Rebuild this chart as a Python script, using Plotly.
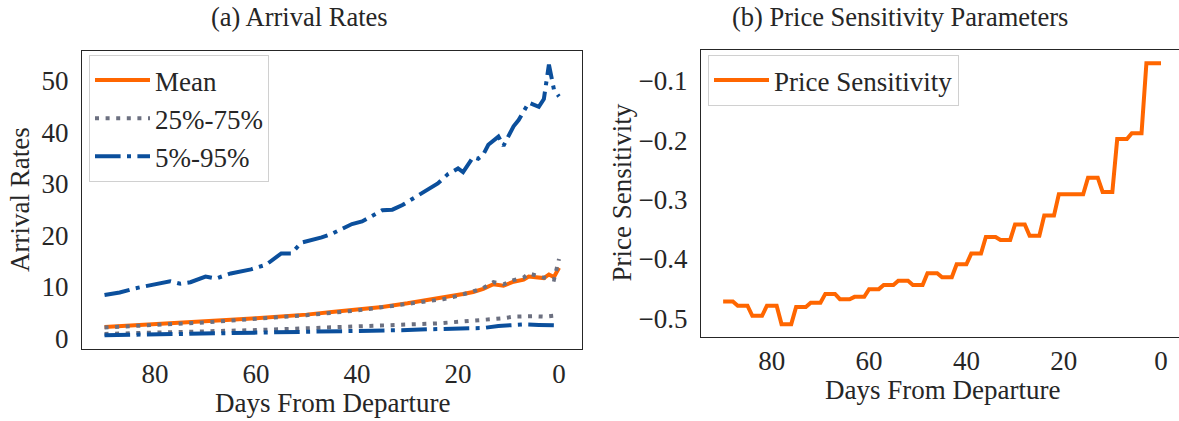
import plotly.graph_objects as go

# ---------------- data: (a) arrival rates ----------------
mean_days = [90, 85, 80, 75, 70, 65, 60, 55, 50, 45, 40, 35, 30, 27, 24, 21, 19, 17, 15, 13, 11, 9, 7, 6, 4, 3, 2, 1, 0]
mean_vals = [2.2, 2.45, 2.7, 2.95, 3.2, 3.6, 3.9, 4.2, 4.6, 5.1, 5.6, 6.1, 6.8, 7.25, 7.7, 8.3, 8.6, 9.0, 9.6, 10.5, 10.2, 11.0, 11.4, 12.0, 11.8, 11.7, 12.4, 11.9, 13.7]

p75_days = [90, 80, 70, 60, 50, 40, 30, 25, 23, 21, 19, 17, 15, 13, 11, 9, 7, 6, 3, 1, 0]
p75_vals = [2.1, 2.6, 3.1, 3.8, 4.5, 5.4, 6.6, 7.3, 7.6, 8.0, 8.5, 9.1, 9.8, 10.9, 10.5, 11.3, 11.8, 12.6, 11.8, 11.4, 15.4]

p25_days = [90, 80, 70, 60, 50, 40, 30, 24, 20, 17, 14, 11, 9, 7, 5, 3, 1, 0]
p25_vals = [0.85, 1.05, 1.3, 1.6, 1.95, 2.3, 2.7, 2.9, 3.2, 3.4, 3.55, 3.9, 4.2, 4.3, 4.3, 4.2, 4.4, 4.8]

p05_days = [90, 80, 70, 60, 50, 40, 30, 26, 19, 15, 12, 7, 4, 0]
p05_vals = [0.6, 0.75, 0.9, 1.0, 1.15, 1.35, 1.6, 1.75, 1.95, 2.0, 2.4, 2.7, 2.6, 2.5]

p95_days = [90, 87, 84, 80, 77, 75, 73, 70, 68, 65, 61, 58, 55, 53, 51, 47, 45, 41, 39, 35, 33, 31, 27, 24, 22, 20, 19, 17, 16, 15, 14, 12, 11, 9, 8, 6, 4, 3, 2, 1, 0]
p95_vals = [8.4, 8.9, 9.7, 10.4, 11.1, 10.6, 10.9, 12.0, 11.6, 12.6, 13.4, 14.3, 16.5, 16.5, 18.6, 19.6, 20.3, 22.2, 22.7, 24.9, 25.0, 25.9, 28.3, 30.1, 31.9, 33.0, 32.3, 35.2, 34.9, 35.7, 37.6, 39.2, 37.4, 41.2, 42.4, 45.8, 45.0, 46.5, 53.2, 48.3, 47.0]

# ---------------- data: (b) price sensitivity ----------------
ps_days = list(range(90, -1, -1))
ps_vals = [
    -0.472, -0.472, -0.472, -0.479, -0.479, -0.479, -0.496, -0.496, -0.496,
    -0.479, -0.479, -0.479, -0.510, -0.510, -0.510, -0.481, -0.481, -0.481,
    -0.474, -0.474, -0.474, -0.459, -0.459, -0.459, -0.468, -0.468, -0.468,
    -0.464, -0.464, -0.464, -0.451, -0.451, -0.451, -0.444, -0.444, -0.444,
    -0.437, -0.437, -0.437, -0.444, -0.444, -0.444, -0.424, -0.424, -0.424,
    -0.431, -0.431, -0.431, -0.409, -0.409, -0.409, -0.391, -0.391, -0.391,
    -0.363, -0.363, -0.363, -0.368, -0.368, -0.368, -0.342, -0.342, -0.342,
    -0.361, -0.361, -0.361, -0.327, -0.327, -0.327, -0.291, -0.291, -0.291,
    -0.291, -0.291, -0.291, -0.263, -0.263, -0.263, -0.287, -0.287, -0.287,
    -0.198, -0.198, -0.198, -0.188, -0.188, -0.188, -0.070, -0.070, -0.070,
    -0.070,
]

left_xticks = [80, 60, 40, 20, 0]
left_yticks = [0, 10, 20, 30, 40, 50]
right_yticks = [-0.5, -0.4, -0.3, -0.2, -0.1]

ORANGE = "#ff6600"
GRAY = "#6c7080"
BLUE = "#0b4f9c"
TXT = "#262626"
FONT = "Liberation Serif"
W, H = 1179, 421
LW = 4

DOT = "4px,6.6px"
DASHDOT = "25.6px,6.4px,4px,6.4px"

fig = go.Figure()
fig.add_trace(go.Scatter(x=mean_days, y=mean_vals, mode="lines", name="Mean",
                         line=dict(color=ORANGE, width=LW), xaxis="x", yaxis="y", legend="legend"))
fig.add_trace(go.Scatter(x=p75_days, y=p75_vals, mode="lines", name="25%-75%",
                         line=dict(color=GRAY, width=LW, dash=DOT), xaxis="x", yaxis="y",
                         legend="legend", showlegend=True))
fig.add_trace(go.Scatter(x=p25_days, y=p25_vals, mode="lines", name="25%-75%",
                         line=dict(color=GRAY, width=LW, dash=DOT), xaxis="x", yaxis="y",
                         legend="legend", showlegend=False))
fig.add_trace(go.Scatter(x=p95_days, y=p95_vals, mode="lines", name="5%-95%",
                         line=dict(color=BLUE, width=LW, dash=DASHDOT), xaxis="x", yaxis="y",
                         legend="legend", showlegend=True))
fig.add_trace(go.Scatter(x=p05_days, y=p05_vals, mode="lines", name="5%-95%",
                         line=dict(color=BLUE, width=LW, dash=DASHDOT), xaxis="x", yaxis="y",
                         legend="legend", showlegend=False))
fig.add_trace(go.Scatter(x=ps_days, y=ps_vals, mode="lines", name="Price Sensitivity",
                         line=dict(color=ORANGE, width=LW), xaxis="x2", yaxis="y2", legend="legend2"))

axis_common = dict(showgrid=False, zeroline=False, showline=True, linecolor=TXT, linewidth=1.3,
                   automargin=False, ticks="",
                   tickfont=dict(family=FONT, size=27, color=TXT))

fig.update_layout(
    template="none",
    width=W, height=H,
    margin=dict(l=0, r=0, t=0, b=0, pad=0, autoexpand=False),
    paper_bgcolor="white", plot_bgcolor="white",
    font=dict(family=FONT, color=TXT, size=27),
    xaxis=dict(domain=[82 / W, 582 / W], range=[94.46, -4.55], tickvals=left_xticks,
               anchor="y", mirror=True, ticklabelstandoff=0, **axis_common),
    yaxis=dict(domain=[1 - 349 / H, 1 - 51 / H], range=[-2.08, 55.83], tickvals=left_yticks,
               anchor="x", mirror=True, ticklabelstandoff=7, **axis_common),
    xaxis2=dict(domain=[701 / W, 1.0], range=[94.55, -3.70], tickvals=left_xticks,
                anchor="y2", mirror=True, ticklabelstandoff=0, **axis_common),
    yaxis2=dict(domain=[1 - 336.7 / H, 1 - 50 / H], range=[-0.5312, -0.0477], tickvals=right_yticks,
                tickformat=".1f", anchor="x2", mirror=False, ticklabelstandoff=7, **axis_common),
    legend=dict(x=89 / W, y=1 - 55 / H, xanchor="left", yanchor="top",
                bgcolor="rgba(255,255,255,0.8)", bordercolor="#d0d0d0", borderwidth=1,
                font=dict(family=FONT, size=27, color=TXT), itemwidth=55),
    legend2=dict(x=708 / W, y=1 - 55 / H, xanchor="left", yanchor="top",
                 bgcolor="rgba(255,255,255,0.8)", bordercolor="#d0d0d0", borderwidth=1,
                 font=dict(family=FONT, size=27, color=TXT), itemwidth=55),
    showlegend=True,
)

ann_font = dict(family=FONT, size=27, color=TXT)
annotations = [
    dict(text="(a) Arrival Rates", x=299 / W, y=1, yanchor="top", font=dict(family=FONT, size=26.5, color=TXT)),
    dict(text="(b) Price Sensitivity Parameters", x=900 / W, y=1, yanchor="top", font=dict(family=FONT, size=26.5, color=TXT)),
    dict(text="Days From Departure", x=332 / W, y=1 - 403 / H, font=ann_font),
    dict(text="Days From Departure", x=942 / W, y=1 - 390 / H, font=ann_font),
    dict(text="Arrival Rates", x=20 / W, y=1 - 200 / H, textangle=-90, font=ann_font),
    dict(text="Price Sensitivity", x=621.5 / W, y=1 - 193 / H, textangle=-90, font=ann_font),
]
for a in annotations:
    a.setdefault("yanchor", "middle")
    a.update(xref="paper", yref="paper", xanchor="center", showarrow=False)
fig.update_layout(annotations=annotations)

fig.write_html("out.html", config={"displayModeBar": False},
               post_script="document.body.style.margin='0px';")
